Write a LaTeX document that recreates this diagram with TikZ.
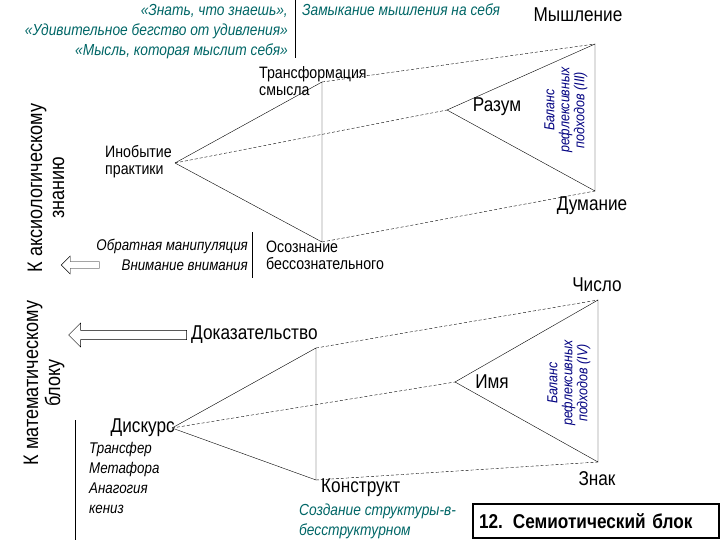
\documentclass[tikz,border=0pt]{standalone}
\usepackage{fontspec}
\setmainfont[FakeStretch=0.86]{Liberation Sans}
\usetikzlibrary{shapes.arrows}
\begin{document}
\begin{tikzpicture}[x=1pt,y=-1pt,
  lab/.style={font=\fontsize{16.5}{17}\selectfont,inner sep=1pt},
  big/.style={font=\fontsize{20}{20}\selectfont,inner sep=1pt},
  rot/.style={font=\fontsize{21}{22}\selectfont,rotate=90,align=center,inner sep=1pt},
  note/.style={font=\fontsize{16}{20}\selectfont\itshape,text=teal!80!black,inner sep=1pt},
  bal/.style={font=\fontsize{14.5}{15}\selectfont\itshape,text=blue!50!black,align=center,rotate=90,inner sep=1pt},
  itl/.style={font=\fontsize{15.5}{20}\selectfont\itshape,inner sep=1pt},
  dsh/.style={dashed,dash pattern=on 3pt off 2pt},
  hollow/.style={single arrow,draw,fill=white,shape border rotate=180,minimum height=#1,single arrow head extend=5pt,inner sep=3pt}]
\useasboundingbox (0,0) rectangle (720,540);
% top
\coordinate (M) at (595,44); \coordinate (D) at (595,191);
\coordinate (T) at (322,82); \coordinate (O) at (322,242);
\coordinate (I) at (175,163); \coordinate (R) at (447,110);
\draw[dsh] (T)--(M) (O)--(D) (I)--(R);
\draw (I)--(T)--(O)--(I) (R)--(M)--(D)--(R);
\node[big] (mysh) at (578,15) {Мышление};
\node[big] (dum) at (592,206) {Думание};
\node[big] (raz) at (497,107) {Разум};
\node[lab,align=left,anchor=north west] (tr) at (258,65) {Трансформация\\смысла};
\node[lab,align=left,anchor=west] (inob) at (104,162) {Инобытие\\практики};
\node[lab,align=left,anchor=north west] (osoz) at (265,240) {Осознание\\бессознательного};
\node[itl,align=right,anchor=north east] (obr) at (249,238) {Обратная манипуляция\\Внимание внимания};
\node[bal] (bal1) at (566,110) {Баланс\\рефлексивных\\подходов (III)};
\node[note,align=right,anchor=north east] (q) at (289,3) {«Знать, что знаешь»,\\«Удивительное бегство от удивления»\\«Мысль, которая мыслит себя»};
\node[note,anchor=north west] (zam) at (301,3) {Замыкание мышления на себя};
\draw (295,0)--(295,58);
\draw (252,232)--(252,278);
\node[rot] (aks) at (46,188) {К аксиологическому\\знанию};
\node[hollow=38pt,minimum width=18pt] (ar1) at (82,265) {};
% bottom
\coordinate (C) at (598,300); \coordinate (Z) at (598,462);
\coordinate (P) at (316,348); \coordinate (K) at (316,480);
\coordinate (S) at (172,428); \coordinate (N) at (455,382);
\draw[dsh] (P)--(C) (K)--(Z) (S)--(N);
\draw (S)--(P)--(K)--(S) (N)--(C)--(Z)--(N);
\node[big] (chis) at (597,285) {Число};
\node[big] (znak) at (597,479) {Знак};
\node[big] (imya) at (492,382) {Имя};
\node[big,anchor=west] (dok) at (190,335) {Доказательство};
\node[big,anchor=east] (disk) at (176,428) {Дискурс};
\node[big,anchor=west] (kon) at (320,488) {Конструкт};
\node[bal] (bal2) at (569,383) {Баланс\\рефлексивных\\подходов (IV)};
\node[itl,align=left,anchor=north west] (tran) at (88,441) {Трансфер\\Метафора\\Анагогия\\кениз};
\draw (75,420)--(75,540);
\node[note,align=left,anchor=north west] (soz) at (298,503) {Создание структуры-в-\\бесструктурном};
\node[rot] (mat) at (44,383) {К математическому\\блоку};
\node[hollow=118pt,minimum width=24pt] (ar2) at (130,335) {};
\node[draw,line width=2pt,font=\fontsize{20}{21}\selectfont\bfseries,minimum width=246pt,minimum height=34pt,anchor=south west,text width=234pt,align=left] (box) at (472,539) {12. Семиотический блок};
\end{tikzpicture}
\end{document}
